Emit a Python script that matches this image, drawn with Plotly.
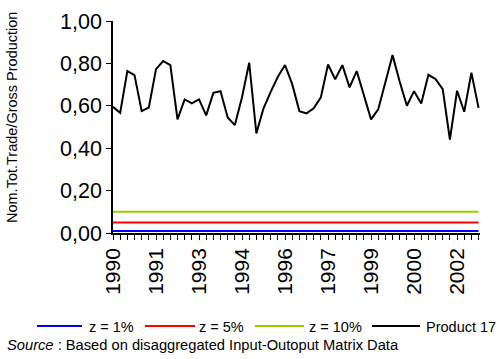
import plotly.graph_objects as go

quarters = [f"{y}Q{q}" for y in range(1990, 2003) for q in range(1, 5)]

product17 = [0.595, 0.567, 0.764, 0.745, 0.575, 0.592, 0.773, 0.811, 0.792, 0.536,
             0.630, 0.611, 0.630, 0.555, 0.661, 0.669, 0.545, 0.509, 0.640, 0.803,
             0.470, 0.588, 0.666, 0.737, 0.792, 0.702, 0.575, 0.564, 0.588, 0.640,
             0.795, 0.725, 0.792, 0.687, 0.764, 0.650, 0.536, 0.583, 0.706, 0.839,
             0.713, 0.600, 0.669, 0.611, 0.746, 0.726, 0.679, 0.441, 0.671, 0.572,
             0.756, 0.590]

z_names = ["z = 1%", "z = 5%", "z = 10%"]
z_values = [0.01, 0.05, 0.10]
z_colors = ["#0000ff", "#ff0000", "#99cc00"]

tick_text = [q[:4] if i % 6 == 0 else "" for i, q in enumerate(quarters)]

FONT = "Liberation Sans, Arial, sans-serif"
W, H = 500, 359
ML, MR, MT, MB = 113, 20, 21, 126
PW, PH = W - ML - MR, H - MT - MB


def px(x):
    return (x - ML) / PW


def py(y):
    return (H - MB - y) / PH


fig = go.Figure()
for name, val, col in zip(z_names, z_values, z_colors):
    fig.add_trace(go.Scatter(x=quarters, y=[val] * len(quarters), mode="lines",
                             name=name, line=dict(color=col, width=2)))
fig.add_trace(go.Scatter(x=quarters, y=product17, mode="lines", name="Product 17",
                         line=dict(color="black", width=2)))

# custom legend (line sample + label)
legend_names = z_names + ["Product 17"]
legend_colors = z_colors + ["black"]
legend_line_x = [(37, 82), (145, 195), (255, 304), (372, 420)]
legend_text_x = [88, 198, 308, 425]
LEG_Y = 326

shapes = []
annotations = []
for name, col, (x0, x1), tx in zip(legend_names, legend_colors, legend_line_x, legend_text_x):
    shapes.append(dict(type="line", xref="paper", yref="paper",
                       x0=px(x0), x1=px(x1), y0=py(LEG_Y), y1=py(LEG_Y),
                       line=dict(color=col, width=2)))
    annotations.append(dict(text=name, xref="paper", yref="paper",
                            x=px(tx), y=py(LEG_Y + 1), xanchor="left", yanchor="middle",
                            showarrow=False, borderpad=0,
                            font=dict(size=14.5, family=FONT)))

annotations.append(dict(text="Nom.Tot.Trade/Gross Production", textangle=-90,
                        xref="paper", yref="paper", x=px(12), y=py(118),
                        xanchor="center", yanchor="middle", showarrow=False,
                        font=dict(size=14.5, family=FONT)))
annotations.append(dict(text="<i>Source</i> : Based on disaggregated Input-Outoput Matrix Data",
                        xref="paper", yref="paper", x=px(6), y=py(345),
                        xanchor="left", yanchor="middle", showarrow=False, borderpad=0,
                        font=dict(size=14.7, family=FONT)))

fig.update_layout(
    width=W, height=H,
    margin=dict(l=ML, r=MR, t=MT, b=MB, autoexpand=False),
    paper_bgcolor="white", plot_bgcolor="white",
    separators=",.",
    font=dict(family=FONT, color="black"),
    showlegend=False,
    xaxis=dict(type="category", range=[0, 51.2], showgrid=False, zeroline=False,
               automargin=False,
               showline=True, linecolor="black", linewidth=1.5,
               ticks="outside", ticklen=5, tickwidth=1, tickcolor="black",
               tickmode="array", tickvals=quarters, ticktext=tick_text,
               tickangle=-90, tickfont=dict(size=21, family=FONT)),
    yaxis=dict(range=[0, 1], showgrid=False, zeroline=False, automargin=False,
               showline=True, linecolor="black", linewidth=1.5,
               ticks="outside", ticklen=5, tickwidth=1, tickcolor="black",
               tickmode="array", tickvals=[0, 0.2, 0.4, 0.6, 0.8, 1.0],
               tickformat=".2f", ticklabelstandoff=0,
               tickfont=dict(size=21.5, family=FONT)),
    shapes=shapes,
    annotations=annotations,
)

fig.write_html("out.html", config={"displayModeBar": False},
               post_script="document.body.style.margin='0';document.body.style.overflow='hidden';")
